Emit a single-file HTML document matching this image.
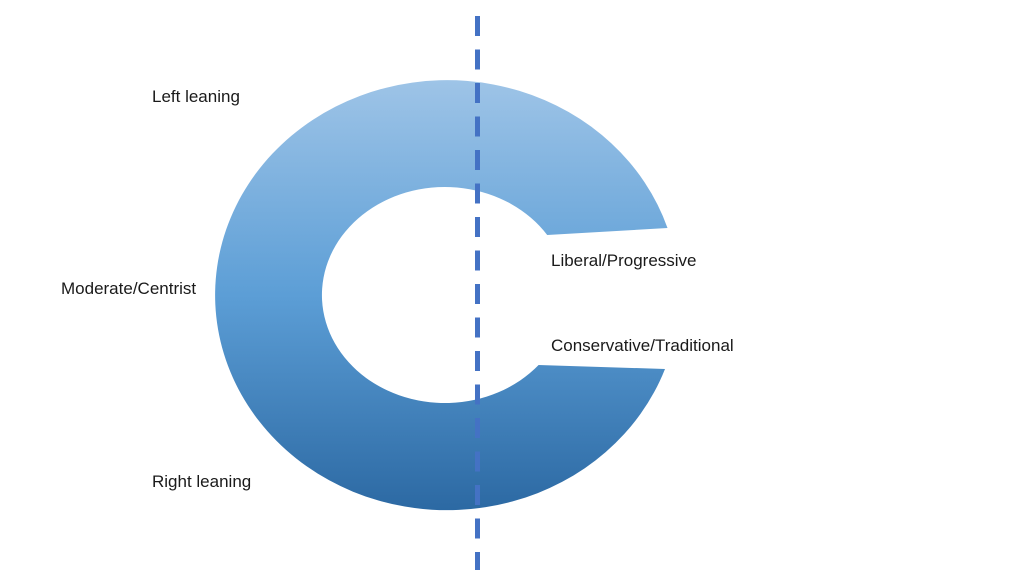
<!DOCTYPE html>
<html><head><meta charset="utf-8"><style>
html,body{margin:0;padding:0;background:#fff;}
svg{display:block;}
text{font-family:"Liberation Sans",sans-serif;font-size:17px;fill:#1a1a1a;}
</style></head><body>
<svg width="1024" height="576" viewBox="0 0 1024 576" xmlns="http://www.w3.org/2000/svg">
<defs>
<linearGradient id="g" x1="0" y1="80" x2="0" y2="510" gradientUnits="userSpaceOnUse">
<stop offset="0" stop-color="#9EC4E7"/>
<stop offset="0.5" stop-color="#5C9ED6"/>
<stop offset="1" stop-color="#2C69A3"/>
</linearGradient>
</defs>
<path d="M667.5,228 A232,215 0 1 0 665,369 L538.6,365 A123,108 0 1 1 547.2,235 Z" fill="url(#g)"/>
<line x1="477.5" y1="16" x2="477.5" y2="570" stroke="#4472C4" stroke-width="5" stroke-dasharray="20 13.5"/>
<text x="152" y="102">Left leaning</text>
<text x="61" y="294">Moderate/Centrist</text>
<text x="152" y="487">Right leaning</text>
<text x="551" y="266">Liberal/Progressive</text>
<text x="551" y="351">Conservative/Traditional</text>
</svg>
</body></html>
